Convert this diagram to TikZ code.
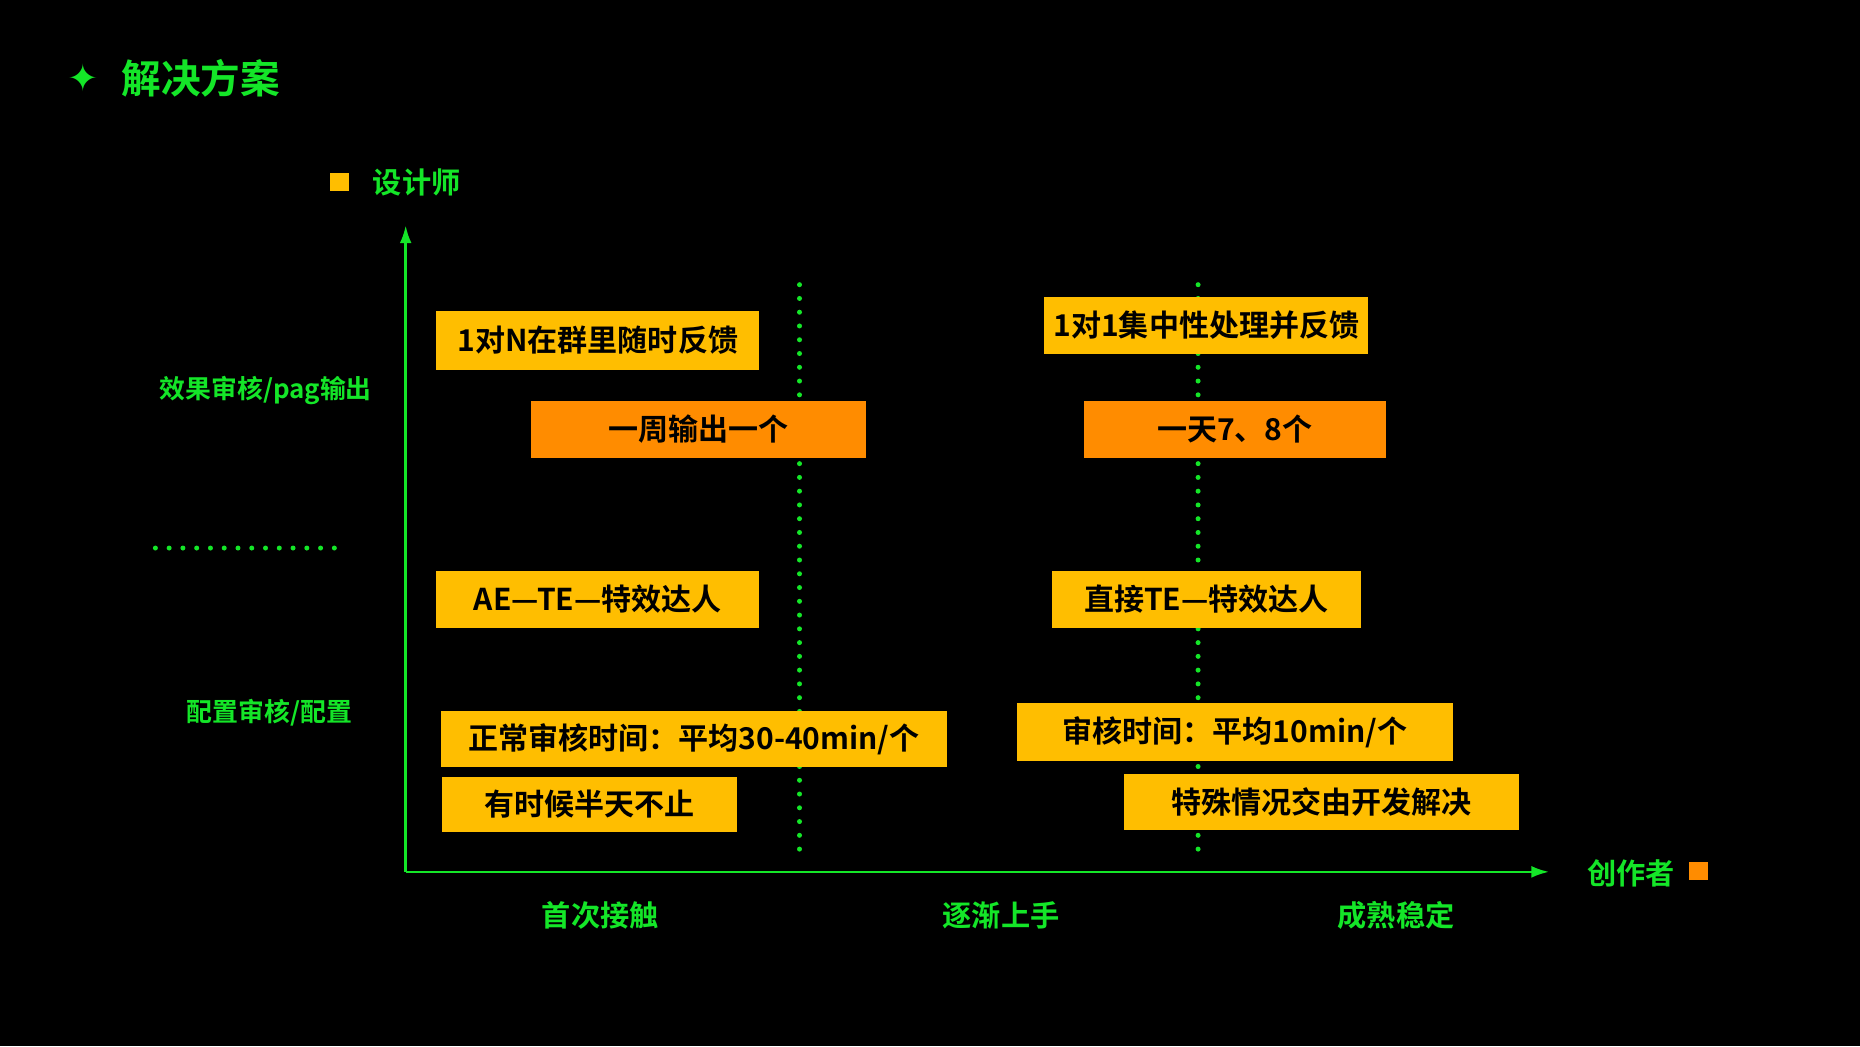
\documentclass[tikz,border=0pt]{standalone}
\usepackage{fontspec}
\setmainfont{Noto Sans CJK SC}[BoldFont={Noto Sans CJK SC Bold}]
\newfontfamily\symfont{DejaVu Sans}
\usetikzlibrary{arrows.meta}
\definecolor{lime}{RGB}{20,230,40}
\definecolor{gold}{RGB}{255,190,0}
\definecolor{amber}{RGB}{255,140,0}
\tikzset{>={Latex[width=1mm,length=1.5mm]}}

\begin{document}
\begin{tikzpicture}[x=0.01cm, y=-0.01cm, font=\bfseries,
  ybox/.style={fill=gold, inner sep=0pt, font=\bfseries\fontsize{7.2}{8}\selectfont},
  obox/.style={fill=amber, inner sep=0pt, font=\bfseries\fontsize{7.2}{8}\selectfont},
  lab/.style={text=lime, font=\bfseries\fontsize{6.2}{7}\selectfont},
  axis/.style={draw=lime, line width=0.6pt},
  dots/.style={draw=lime, line width=1.2pt, dash pattern=on 0pt off 3.3pt, line cap=round}]

    %Background
    \fill[black] (0,0) rectangle (1568,882);

    %Title
    \node[text=lime, font=\symfont\fontsize{9}{10}\selectfont](star) at (70,66){✦};
    \node[text=lime, font=\bfseries\fontsize{9.5}{11}\selectfont, anchor=west](title) at (90,66){解决方案};

    %Axes
    \coordinate (origin) at (342,735);
    \coordinate (ytop) at (342,190);
    \coordinate (xend) at (1306,735);
    \draw[axis, ->] (origin) -- (ytop);
    \draw[axis, ->] (origin) -- (xend);

    %Dotted dividers
    \coordinate (d1a) at (674,240); \coordinate (d1b) at (674,722);
    \coordinate (d2a) at (1010,240); \coordinate (d2b) at (1010,722);
    \coordinate (h1a) at (131,462); \coordinate (h1b) at (293,462);
    \draw[dots] (d1a) -- (d1b);
    \draw[dots] (d2a) -- (d2b);
    \draw[dots] (h1a) -- (h1b);

    %Legend
    \fill[gold] (278,146) rectangle (294,161);
    \node[lab, font=\bfseries\fontsize{7}{8}\selectfont, anchor=west](designer) at (302,154){设计师};
    \node[lab, font=\bfseries\fontsize{7}{8}\selectfont](creator) at (1375,736){创作者};
    \fill[amber] (1424,727) rectangle (1440,742);

    %Axis labels
    \node[lab](effect) at (224,329){效果审核/pag输出};
    \node[lab](config) at (227,601){配置审核/配置};
    \node[lab, font=\bfseries\fontsize{7}{8}\selectfont](stage1) at (506,772){首次接触};
    \node[lab, font=\bfseries\fontsize{7}{8}\selectfont](stage2) at (844,772){逐渐上手};
    \node[lab, font=\bfseries\fontsize{7}{8}\selectfont](stage3) at (1177,772){成熟稳定};

    %Boxes
    \node[ybox, minimum width=2.72cm, minimum height=0.49cm](fb1) at (504,287){1对N在群里随时反馈};
    \node[obox, minimum width=2.82cm, minimum height=0.48cm](out1) at (589,362){一周输出一个};
    \node[ybox, minimum width=2.73cm, minimum height=0.48cm](fb2) at (1017,274){1对1集中性处理并反馈};
    \node[obox, minimum width=2.55cm, minimum height=0.48cm](out2) at (1041,362){一天7、8个};
    \node[ybox, minimum width=2.72cm, minimum height=0.48cm](te1) at (504,505){AE—TE—特效达人};
    \node[ybox, minimum width=2.60cm, minimum height=0.48cm](te2) at (1017,505){直接TE—特效达人};
    \node[ybox, minimum width=4.27cm, minimum height=0.47cm](rev1) at (585,623){正常审核时间：平均30-40min/个};
    \node[ybox, minimum width=2.49cm, minimum height=0.46cm](half) at (497,678){有时候半天不止};
    \node[ybox, minimum width=3.67cm, minimum height=0.49cm](rev2) at (1041,617){审核时间：平均10min/个};
    \node[ybox, minimum width=3.33cm, minimum height=0.47cm](dev) at (1114,676){特殊情况交由开发解决};

\end{tikzpicture}
\end{document}
